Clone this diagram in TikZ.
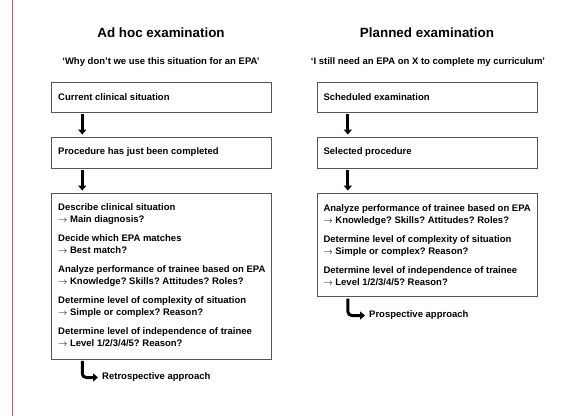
\documentclass[tikz,border=0pt]{standalone}
\usepackage{fontspec}
\setmainfont{Liberation Sans}
\usetikzlibrary{arrows.meta}
\definecolor{pinkline}{HTML}{C94F9A}
\definecolor{boxgray}{HTML}{555555}
\newcommand{\ra}{$\rightarrow$}
\frenchspacing
\begin{document}
\begin{tikzpicture}[x=1pt,y=-1pt,
  box/.style={draw=boxgray,line width=0.9pt,minimum width=220pt,inner sep=0pt},
  txt/.style={font=\bfseries\fontsize{9.5}{12}\selectfont,align=left,anchor=west,inner sep=0pt},
  titletxt/.style={font=\bfseries\fontsize{13.4}{16}\selectfont,inner sep=0pt},
  subtxt/.style={font=\bfseries\fontsize{9.5}{12}\selectfont,inner sep=0pt},
  bigarrow/.style={line width=3pt,-{Triangle[width=8pt,length=5pt]}},
]
\useasboundingbox (0,0) rectangle (567,416);
\fill[white] (0,0) rectangle (567,416);
\draw[pinkline,line width=1pt] (12.5,0) -- (12.5,416);

% Left column
\node[titletxt] (lt) at (161,33) {Ad hoc examination};
\node[subtxt] (ls) at (161,62) {‘Why don’t we use this situation for an EPA’};
\node[box,minimum height=30pt] (l1) at (161,97) {};
\node[txt] (l1t) at (58,97) {Current clinical situation};
\node[box,minimum height=31pt] (l2) at (161,152.5) {};
\node[txt] (l2t) at (58,152.5) {Procedure has just been completed};
\node[box,minimum height=166pt] (l3) at (161,276) {};
\node[txt] (l3t) at (58,275.4) {Describe clinical situation\\
\ra{} Main diagnosis?\\[7pt]
Decide which EPA matches\\
\ra{} Best match?\\[7pt]
Analyze performance of trainee based on EPA\\
\ra{} Knowledge? Skills? Attitudes? Roles?\\[7pt]
Determine level of complexity of situation\\
\ra{} Simple or complex? Reason?\\[7pt]
Determine level of independence of trainee\\
\ra{} Level 1/2/3/4/5? Reason?};
\node[txt] (retro) at (102,377.5) {Retrospective approach};
\draw[bigarrow] ([xshift=31.7pt,yshift=-1.5pt]l1.south west) -- ([xshift=31.7pt,yshift=2pt]l2.north west);
\draw[bigarrow] ([xshift=31.7pt,yshift=-1.5pt]l2.south west) -- ([xshift=31.7pt,yshift=2pt]l3.north west);
\draw[bigarrow,rounded corners=4pt] ([xshift=31.7pt,yshift=-1.5pt]l3.south west) |- ([xshift=-4pt]retro.west);

% Right column
\node[titletxt] (rt) at (427,33) {Planned examination};
\node[subtxt] (rs) at (428,62) {‘I still need an EPA on X to complete my curriculum’};
\node[box,minimum height=30pt] (r1) at (427.3,97) {};
\node[txt] (r1t) at (323.3,97) {Scheduled examination};
\node[box,minimum height=31pt] (r2) at (427.3,152.5) {};
\node[txt] (r2t) at (323.3,152.5) {Selected procedure};
\node[box,minimum height=103.7pt] (r3) at (427.3,244.85) {};
\node[txt] (r3t) at (323.3,244.85) {Analyze performance of trainee based on EPA\\
\ra{} Knowledge? Skills? Attitudes? Roles?\\[7pt]
Determine level of complexity of situation\\
\ra{} Simple or complex? Reason?\\[7pt]
Determine level of independence of trainee\\
\ra{} Level 1/2/3/4/5? Reason?};
\node[txt] (prosp) at (369,315.5) {Prospective approach};
\draw[bigarrow] ([xshift=31pt,yshift=-1.5pt]r1.south west) -- ([xshift=31pt,yshift=2pt]r2.north west);
\draw[bigarrow] ([xshift=31pt,yshift=-1.5pt]r2.south west) -- ([xshift=31pt,yshift=2pt]r3.north west);
\draw[bigarrow,rounded corners=4pt] ([xshift=31pt,yshift=-1.5pt]r3.south west) |- ([xshift=-4pt]prosp.west);
\end{tikzpicture}
\end{document}
